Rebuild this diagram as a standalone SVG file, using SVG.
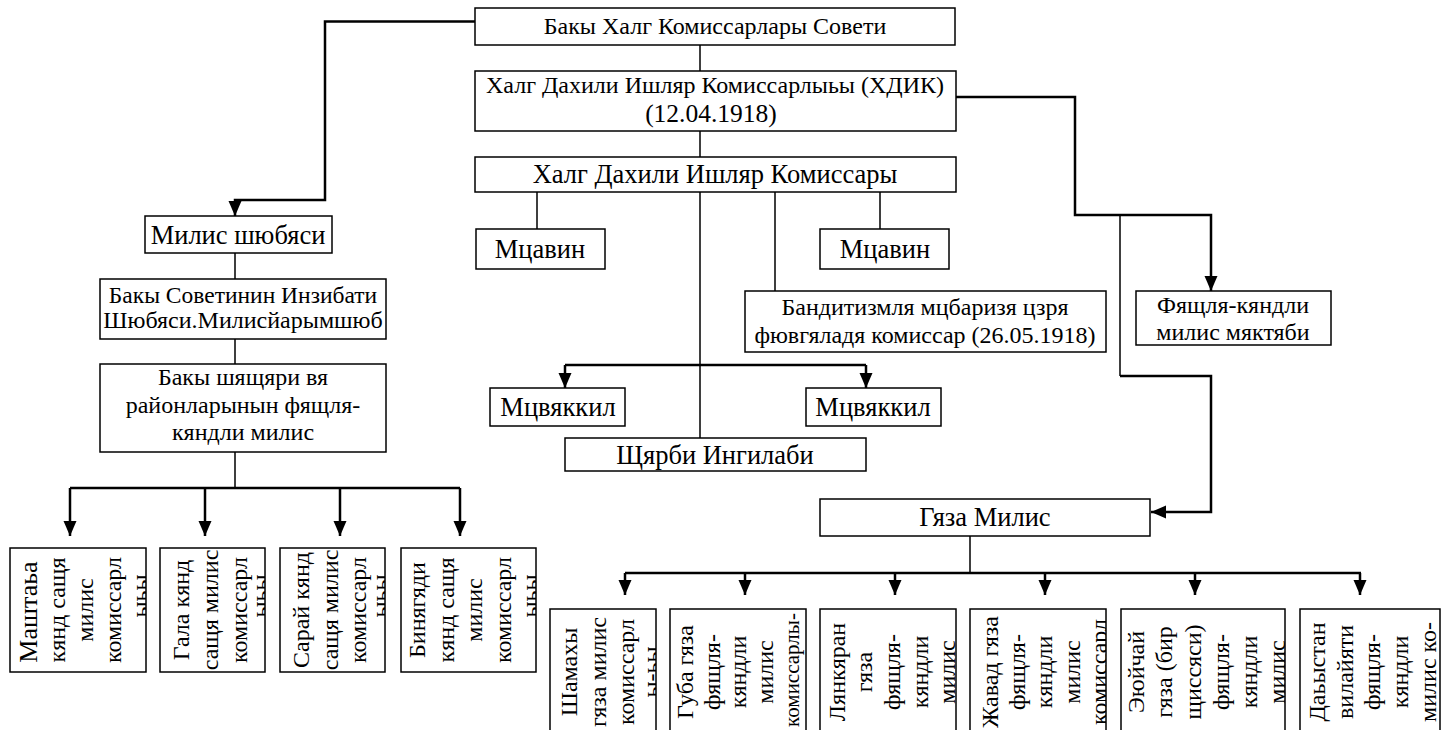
<svg xmlns="http://www.w3.org/2000/svg" width="1445" height="730" viewBox="0 0 1445 730">
<defs>
<style>
.b{fill:#fff;stroke:#000;stroke-width:1.5}
.t{font-family:"Liberation Serif","Times New Roman",serif;font-size:24px;fill:#000;text-anchor:middle}
.L{font-size:26.5px}
.c{fill:none;stroke:#000;stroke-width:1.5}
.k{fill:none;stroke:#000;stroke-width:2.5}
.a{marker-end:url(#ah)}
</style>
<marker id="ah" markerUnits="userSpaceOnUse" markerWidth="16" markerHeight="14" viewBox="0 0 16 14" refX="15" refY="7" orient="auto"><path d="M0,0.5 L15,7 L0,13.5 z" fill="#000"/></marker>
<clipPath id="cA"><rect x="10" y="548" width="136" height="124"/></clipPath>
<clipPath id="cB"><rect x="160" y="548" width="105" height="124"/></clipPath>
<clipPath id="cC"><rect x="280" y="548" width="105" height="124"/></clipPath>
<clipPath id="cD"><rect x="401" y="548" width="135" height="124"/></clipPath>
<clipPath id="r1"><rect x="550" y="609" width="106" height="130"/></clipPath>
<clipPath id="r2"><rect x="670" y="609" width="136" height="130"/></clipPath>
<clipPath id="r3"><rect x="820" y="609" width="136" height="130"/></clipPath>
<clipPath id="r4"><rect x="970" y="609" width="136" height="130"/></clipPath>
<clipPath id="r5"><rect x="1121" y="609" width="164" height="130"/></clipPath>
<clipPath id="r6"><rect x="1300" y="609" width="140" height="130"/></clipPath>
</defs>
<rect width="1445" height="730" fill="#fff"/>
<g id="connectors">
<path class="k a" d="M475,21.5 H325 V200 H235 V216"/>
<path class="c" d="M700,45 V71"/>
<path class="k a" d="M956,97 H1075 V215 H1211 V291"/>
<path class="c" d="M1120,215 V376"/>
<path class="k a" d="M1120,376 H1211 V512 H1151"/>
<path class="c" d="M700,131 V157"/>
<path class="c" d="M537,192 V229 M880,192 V229 M775,192 V291 M700,192 V438"/>
<path class="k" d="M565,365 H866"/>
<path class="k a" d="M565,365 V388"/>
<path class="k a" d="M866,365 V388"/>
<path class="c" d="M235,253 V279 M235,339 V364 M235,452 V488"/>
<path class="k" d="M70,488 H460"/>
<path class="k a" d="M70,488 V536"/>
<path class="k a" d="M205,488 V536"/>
<path class="k a" d="M340,488 V536"/>
<path class="k a" d="M460,488 V536"/>
<path class="c" d="M970,536 V573"/>
<path class="k" d="M625,573 H1361"/>
<path class="k a" d="M625,573 V595"/>
<path class="k a" d="M745,573 V595"/>
<path class="k a" d="M895,573 V595"/>
<path class="k a" d="M1045,573 V595"/>
<path class="k a" d="M1195,573 V595"/>
<path class="k a" d="M1360,573 V595"/>
</g>
<g id="n1"><rect class="b" x="475" y="8" width="480" height="37"/><text class="t" x="715" y="34">Бакы Халг Комиссарлары Совети</text></g>
<g id="n2"><rect class="b" x="475" y="71" width="481" height="60"/><text class="t" x="715" y="93">Халг Дахили Ишляр Комиссарлыьы (ХДИК)</text><text class="t" x="711" y="122" style="font-size:25.5px">(12.04.1918)</text></g>
<g id="n3"><rect class="b" x="475" y="157" width="481" height="35"/><text class="t L" x="715" y="183">Халг Дахили Ишляр Комиссары</text></g>
<g id="n4"><rect class="b" x="476" y="229" width="129" height="40"/><text class="t L" x="540" y="258">Мцавин</text></g>
<g id="n5"><rect class="b" x="820" y="229" width="129" height="40"/><text class="t L" x="885" y="258">Мцавин</text></g>
<g id="n6"><rect class="b" x="745" y="291" width="361" height="61"/><text class="t" x="925" y="315">Бандитизмля мцбаризя цзря</text><text class="t" x="925" y="343">фювгяладя комиссар (26.05.1918)</text></g>
<g id="n7"><rect class="b" x="490" y="388" width="135" height="38"/><text class="t L" x="558" y="416">Мцвяккил</text></g>
<g id="n8"><rect class="b" x="806" y="388" width="135" height="38"/><text class="t L" x="873" y="416">Мцвяккил</text></g>
<g id="n9"><rect class="b" x="565" y="438" width="301" height="33"/><text class="t L" x="715" y="464">Щярби Ингилаби</text></g>
<g id="n10"><rect class="b" x="1136" y="291" width="195" height="54"/><text class="t" x="1233" y="313">Фящля-кяндли</text><text class="t" x="1233" y="340">милис мяктяби</text></g>
<g id="n11"><rect class="b" x="820" y="499" width="330" height="37"/><text class="t L" x="985" y="526">Гяза Милис</text></g>
<g id="n12"><rect class="b" x="145" y="216" width="187" height="37"/><text class="t L" x="238" y="244">Милис шюбяси</text></g>
<g id="n13"><rect class="b" x="100" y="279" width="286" height="60"/><text class="t" x="243" y="303" style="font-size:23.5px">Бакы Советинин Инзибати</text><text class="t" x="243" y="328">Шюбяси.Милисйарымшюб</text></g>
<g id="n14"><rect class="b" x="100" y="364" width="286" height="88"/><text class="t" x="243" y="385">Бакы шящяри вя</text><text class="t" x="243" y="413">районларынын фящля-</text><text class="t" x="243" y="440">кяндли милис</text></g>
<g id="lA"><rect class="b" x="10" y="548" width="136" height="124"/><g clip-path="url(#cA)">
<text class="t" transform="translate(37,612) rotate(-90)" style="font-size:26px">Маштаьа</text>
<text class="t" transform="translate(65,610) rotate(-90)">кянд сащя</text>
<text class="t" transform="translate(93,610) rotate(-90)">милис</text>
<text class="t" transform="translate(121,610) rotate(-90)">комиссарл</text>
<text class="t" transform="translate(148,596) rotate(-90)">ыьы</text></g></g>
<g id="lB"><rect class="b" x="160" y="548" width="105" height="124"/><g clip-path="url(#cB)">
<text class="t" transform="translate(189,610) rotate(-90)">Гала кянд</text>
<text class="t" transform="translate(218,610) rotate(-90)">сащя милис</text>
<text class="t" transform="translate(247,610) rotate(-90)">комиссарл</text>
<text class="t" transform="translate(268,596) rotate(-90)">ыьы</text></g></g>
<g id="lC"><rect class="b" x="280" y="548" width="105" height="124"/><g clip-path="url(#cC)">
<text class="t" transform="translate(309,610) rotate(-90)">Сарай кянд</text>
<text class="t" transform="translate(338,610) rotate(-90)">сащя милис</text>
<text class="t" transform="translate(366,610) rotate(-90)">комиссарл</text>
<text class="t" transform="translate(388,596) rotate(-90)">ыьы</text></g></g>
<g id="lD"><rect class="b" x="401" y="548" width="135" height="124"/><g clip-path="url(#cD)">
<text class="t" transform="translate(425,610) rotate(-90)">Бинягяди</text>
<text class="t" transform="translate(454,610) rotate(-90)">кянд сащя</text>
<text class="t" transform="translate(482,610) rotate(-90)">милис</text>
<text class="t" transform="translate(511,610) rotate(-90)">комиссарл</text>
<text class="t" transform="translate(538,596) rotate(-90)">ыьы</text></g></g>
<g id="R1"><rect class="b" x="550" y="609" width="106" height="130"/><g clip-path="url(#r1)">
<text class="t" transform="translate(577,672) rotate(-90)">Шамахы</text>
<text class="t" transform="translate(606,672) rotate(-90)">гяза милис</text>
<text class="t" transform="translate(634,672) rotate(-90)">комиссарл</text>
<text class="t" transform="translate(659,672) rotate(-90)">ы-ьы</text></g></g>
<g id="R2"><rect class="b" x="670" y="609" width="136" height="130"/><g clip-path="url(#r2)">
<text class="t" transform="translate(693,672) rotate(-90)">Губа гяза</text>
<text class="t" transform="translate(720,672) rotate(-90)">фящля-</text>
<text class="t" transform="translate(746,672) rotate(-90)">кяндли</text>
<text class="t" transform="translate(773,672) rotate(-90)">милис</text>
<text class="t" transform="translate(799,670) rotate(-90)" style="font-size:21px">комиссарлы-</text></g></g>
<g id="R3"><rect class="b" x="820" y="609" width="136" height="130"/><g clip-path="url(#r3)">
<text class="t" transform="translate(845,672) rotate(-90)">Лянкяран</text>
<text class="t" transform="translate(872,672) rotate(-90)">гяза</text>
<text class="t" transform="translate(900,672) rotate(-90)">фящля-</text>
<text class="t" transform="translate(928,672) rotate(-90)">кяндли</text>
<text class="t" transform="translate(955,672) rotate(-90)">милис</text></g></g>
<g id="R4"><rect class="b" x="970" y="609" width="136" height="130"/><g clip-path="url(#r4)">
<text class="t" transform="translate(998,672) rotate(-90)">Жавад гяза</text>
<text class="t" transform="translate(1025,672) rotate(-90)">фящля-</text>
<text class="t" transform="translate(1052,672) rotate(-90)">кяндли</text>
<text class="t" transform="translate(1080,672) rotate(-90)">милис</text>
<text class="t" transform="translate(1107,672) rotate(-90)">комиссарл</text></g></g>
<g id="R5"><rect class="b" x="1121" y="609" width="164" height="130"/><g clip-path="url(#r5)">
<text class="t" transform="translate(1144,672) rotate(-90)">Эюйчай</text>
<text class="t" transform="translate(1172,672) rotate(-90)">гяза (бир</text>
<text class="t" transform="translate(1201,672) rotate(-90)">щиссяси)</text>
<text class="t" transform="translate(1229,672) rotate(-90)">фящля-</text>
<text class="t" transform="translate(1257,672) rotate(-90)">кяндли</text>
<text class="t" transform="translate(1285,672) rotate(-90)">милис</text></g></g>
<g id="R6"><rect class="b" x="1300" y="609" width="140" height="130"/><g clip-path="url(#r6)">
<text class="t" transform="translate(1325,672) rotate(-90)">Даьыстан</text>
<text class="t" transform="translate(1353,672) rotate(-90)">вилайяти</text>
<text class="t" transform="translate(1380,672) rotate(-90)">фящля-</text>
<text class="t" transform="translate(1408,672) rotate(-90)">кяндли</text>
<text class="t" transform="translate(1436,672) rotate(-90)">милис ко-</text></g></g>
</svg>
